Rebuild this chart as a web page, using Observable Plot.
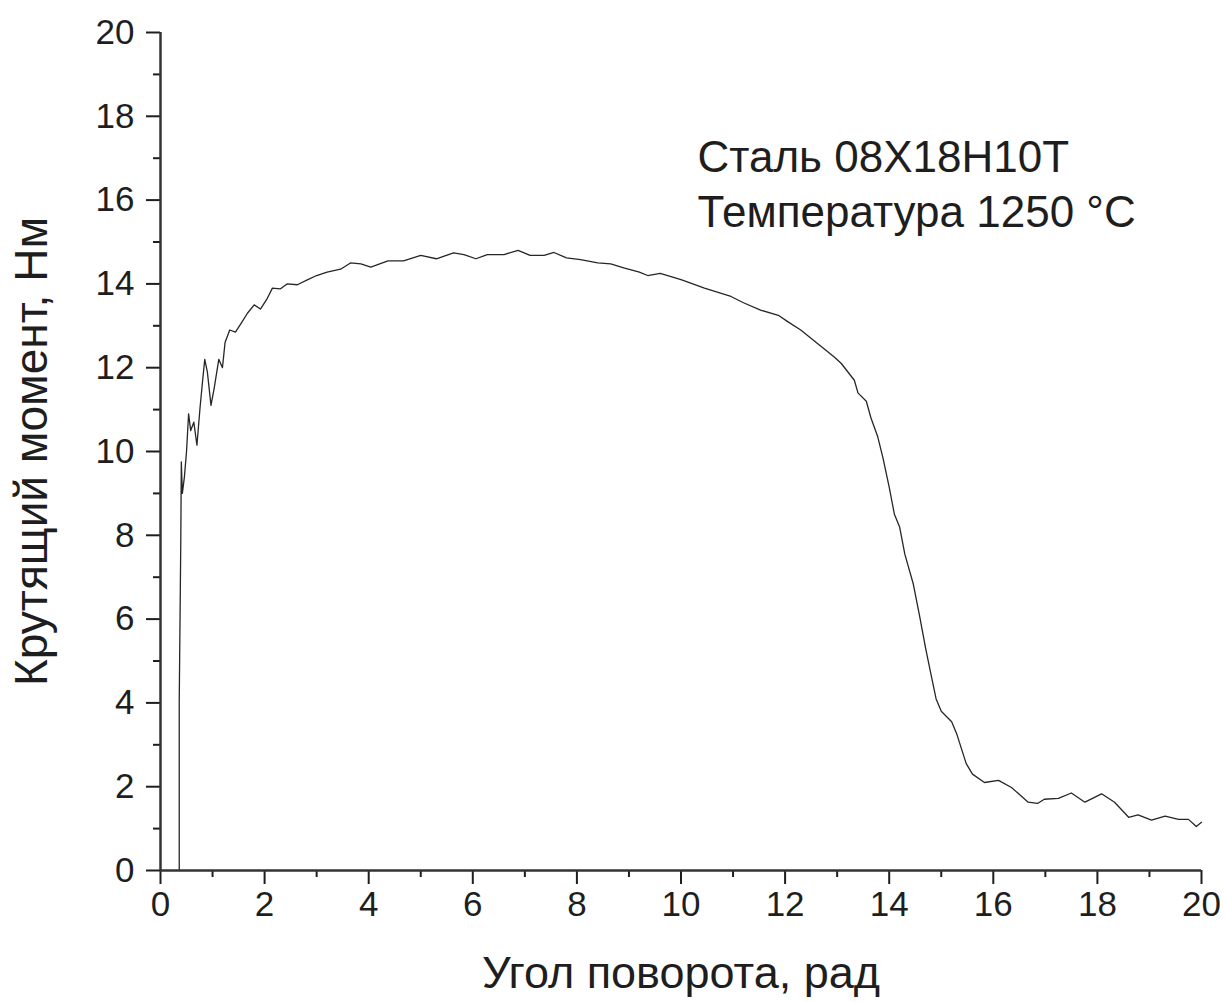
<!DOCTYPE html>
<html>
<head>
<meta charset="utf-8">
<script src="https://cdn.jsdelivr.net/npm/d3@7"></script>
<script src="https://cdn.jsdelivr.net/npm/@observablehq/plot@0.6"></script>
<style>
  body { margin: 0; background: #fff; }
  #chart svg { display: block; }
</style>
</head>
<body>
<div id="chart"></div>
<script>
// Torsion test record: torque vs. twist angle
const angle = [
  0.36, 0.36, 0.39, 0.40, 0.42, 0.46, 0.50, 0.54, 0.58, 0.64,
  0.70, 0.76, 0.81, 0.85, 0.90, 0.97, 1.03, 1.12, 1.19, 1.24,
  1.33, 1.44, 1.57, 1.67, 1.80, 1.92, 2.05, 2.15, 2.30, 2.43,
  2.63, 2.83, 3.00, 3.20, 3.46, 3.65, 3.85, 4.04, 4.37, 4.67,
  5.00, 5.30, 5.63, 5.83, 6.06, 6.28, 6.60, 6.87, 7.10, 7.37,
  7.56, 7.80, 8.07, 8.40, 8.65, 8.90, 9.20, 9.36, 9.60, 10.00,
  10.45, 10.96, 11.20, 11.54, 11.87, 12.05, 12.30, 12.70, 12.95, 13.08,
  13.33, 13.40, 13.56, 13.65, 13.78, 13.88, 14.00, 14.10, 14.20, 14.30,
  14.46, 14.58, 14.70, 14.80, 14.90, 15.00, 15.20, 15.30, 15.48, 15.60,
  15.83, 16.10, 16.35, 16.67, 16.85, 16.98, 17.25, 17.50, 17.76, 18.08,
  18.33, 18.60, 18.78, 19.04, 19.30, 19.56, 19.75, 19.90, 20.00
];
const torque = [
  0.00, 4.05, 7.90, 9.75, 9.00, 9.40, 10.00, 10.90, 10.50, 10.70,
  10.15, 11.05, 11.70, 12.20, 11.90, 11.10, 11.50, 12.20, 12.00, 12.60,
  12.90, 12.85, 13.10, 13.30, 13.50, 13.40, 13.65, 13.90, 13.88, 14.00,
  13.98, 14.10, 14.20, 14.28, 14.35, 14.50, 14.48, 14.40, 14.55, 14.55,
  14.68, 14.60, 14.74, 14.70, 14.60, 14.70, 14.70, 14.80, 14.68, 14.68,
  14.75, 14.62, 14.58, 14.50, 14.48, 14.38, 14.28, 14.20, 14.25, 14.10,
  13.90, 13.70, 13.55, 13.37, 13.25, 13.10, 12.90, 12.50, 12.25, 12.10,
  11.70, 11.40, 11.20, 10.80, 10.35, 9.85, 9.15, 8.50, 8.20, 7.55,
  6.85, 6.10, 5.30, 4.70, 4.10, 3.80, 3.55, 3.25, 2.55, 2.30,
  2.10, 2.15, 1.98, 1.63, 1.60, 1.70, 1.72, 1.85, 1.63, 1.83,
  1.63, 1.27, 1.33, 1.20, 1.30, 1.22, 1.22, 1.05, 1.15
];

const xTicks = [0, 2, 4, 6, 8, 10, 12, 14, 16, 18, 20];
const xMinorTicks = [1, 3, 5, 7, 9, 11, 13, 15, 17, 19];
const yTicks = [0, 2, 4, 6, 8, 10, 12, 14, 16, 18, 20];
const yMinorTicks = [1, 3, 5, 7, 9, 11, 13, 15, 17, 19];

const xTitle = "Угол поворота, рад";
const yTitle = "Крутящий момент, Нм";
const noteLines = ["Сталь 08Х18Н10Т", "Температура 1250 °С"];

const records = angle.map((a, i) => ({angle: a, torque: torque[i]}));
const ink = "#1e1e1e";

const chart = Plot.plot({
  width: 1225,
  height: 1002,
  marginLeft: 160,
  marginRight: 24,
  marginTop: 32,
  marginBottom: 132,
  style: {fontFamily: "'Liberation Sans', Arial, sans-serif", color: ink, background: "#fff"},
  x: {domain: [0, 20], axis: null},
  y: {domain: [0, 20], axis: null},
  marks: [
    Plot.line(records, {x: "angle", y: "torque", stroke: "#262626", strokeWidth: 1.3}),
    // major and minor ticks
    Plot.axisX({ticks: xTicks, tickSize: 14, tickPadding: 7, strokeWidth: 2, fontSize: 35, label: null, tickFormat: d => String(d)}),
    Plot.axisX({ticks: xMinorTicks, tickSize: 7, strokeWidth: 2, text: null, label: null}),
    Plot.axisY({ticks: yTicks, tickSize: 14, tickPadding: 12, strokeWidth: 2, fontSize: 35, label: null, tickFormat: d => String(d)}),
    Plot.axisY({ticks: yMinorTicks, tickSize: 7, strokeWidth: 2, text: null, label: null}),
    // axis lines
    Plot.ruleX([0], {stroke: "#333", strokeWidth: 2.5}),
    Plot.ruleY([0], {stroke: "#333", strokeWidth: 2.5}),
    // axis titles
    Plot.text([xTitle], {frameAnchor: "bottom", dy: 103, fontSize: 45, fill: ink, textAnchor: "middle", lineAnchor: "middle"}),
    Plot.text([yTitle], {frameAnchor: "left", dx: -128, rotate: -90, fontSize: 46, fill: ink, textAnchor: "middle", lineAnchor: "middle"}),
    // annotation
    Plot.text([noteLines.join("\n")], {frameAnchor: "top-left", dx: 537, dy: 100, fontSize: 44, lineHeight: 1.25, textAnchor: "start", lineAnchor: "top", fill: ink})
  ]
});
document.getElementById("chart").appendChild(chart);
</script>
</body>
</html>
